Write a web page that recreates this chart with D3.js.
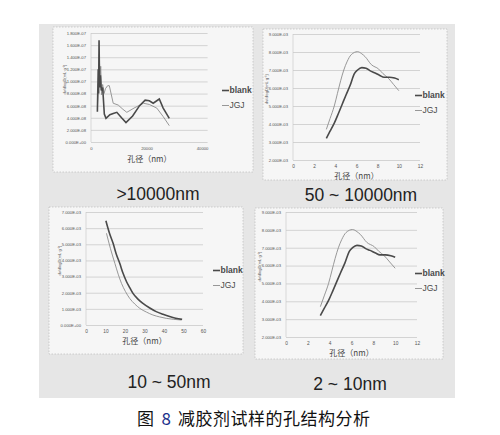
<!DOCTYPE html>
<html>
<head>
<meta charset="utf-8">
<script src="https://cdn.jsdelivr.net/npm/d3@7"></script>
<style>
  body { margin: 0; background: #fff; }
  svg { display: block; }
</style>
</head>
<body>
<div id="fig"></div>
<script>
// ---- data ----
// panel 1: >10000nm  [pore size nm, dV/dlogD]
const p1Blank = [[2300,5.0e-8],[2600,12e-8],[2750,8e-8],[2900,16.8e-8],[3100,9e-8],[3400,11e-8],[3700,8.5e-8],[4200,9e-8],[4800,4.6e-8],[5400,3.9e-8],[6800,4.5e-8],[8000,4.7e-8],[9300,4.9e-8],[11000,4.0e-8],[12600,3.2e-8],[15000,4.3e-8],[17500,6.0e-8],[19500,6.9e-8],[21000,6.8e-8],[22400,6.4e-8],[24600,7.1e-8],[26000,5.6e-8],[28200,3.9e-8]];
const p1JGJ = [[2300,5.5e-8],[2700,10e-8],[3000,14.5e-8],[3200,10e-8],[3500,12.5e-8],[3800,7.8e-8],[4200,9.5e-8],[4700,8e-8],[5200,8.8e-8],[6000,9.3e-8],[6600,9.3e-8],[8000,6.4e-8],[9800,6.1e-8],[11500,5.4e-8],[12900,4.9e-8],[15500,5.6e-8],[18900,6.4e-8],[21000,6.2e-8],[23700,5.6e-8],[26000,4.2e-8],[28200,2.7e-8]];

// panel 2 & 4: 2~10nm (same curves appear in both)
const p4Blank = [[3.15,3.2e-3],[3.5,3.6e-3],[3.9,4.05e-3],[4.3,4.6e-3],[4.65,5.1e-3],[5.0,5.6e-3],[5.4,6.15e-3],[5.8,6.8e-3],[6.1,7.0e-3],[6.5,7.13e-3],[6.9,7.1e-3],[7.3,6.95e-3],[7.7,6.85e-3],[8.2,6.7e-3],[8.6,6.6e-3],[9.1,6.6e-3],[9.6,6.55e-3],[10.0,6.46e-3]];
const p4JGJ = [[3.15,3.7e-3],[3.5,4.3e-3],[3.9,5.0e-3],[4.2,5.7e-3],[4.5,6.4e-3],[4.8,7.0e-3],[5.1,7.45e-3],[5.5,7.85e-3],[6.1,8.02e-3],[6.5,7.9e-3],[6.8,7.75e-3],[7.4,7.3e-3],[8.1,7.05e-3],[8.5,6.8e-3],[9.0,6.55e-3],[9.5,6.2e-3],[10.0,5.85e-3]];

// panel 3: 10~50nm
const p3Blank = [[10.2,6.46e-3],[12,5.7e-3],[13.9,5.06e-3],[15.5,4.4e-3],[17.3,3.82e-3],[19,3.2e-3],[20.8,2.68e-3],[22.5,2.3e-3],[24.1,1.96e-3],[26.5,1.62e-3],[29.2,1.34e-3],[32.5,1.07e-3],[36,0.83e-3],[39.5,0.66e-3],[42.9,0.52e-3],[46,0.42e-3],[49.3,0.35e-3]];
const p3JGJ = [[10.5,5.68e-3],[12.5,4.75e-3],[14.8,3.82e-3],[16.5,3.15e-3],[18.2,2.58e-3],[20.2,2.08e-3],[22.4,1.65e-3],[25,1.3e-3],[27.6,1.03e-3],[31,0.8e-3],[34.3,0.62e-3],[37.8,0.5e-3],[41.2,0.41e-3],[45,0.35e-3],[48.8,0.31e-3]];

const seriesNames = ['blank', 'JGJ'];
const panelTitles = ['>10000nm', '50 ~ 10000nm', '10 ~ 50nm', '2 ~ 10nm'];
const p1XTicks = [0, 20000, 40000];
const p1YTicks = d3.range(0, 1.81e-7, 2e-8);
const smallXTicks = [0, 2, 4, 6, 8, 10, 12];
const smallYTicks = d3.range(2e-3, 9.01e-3, 1e-3);
const p3XTicks = [0, 10, 20, 30, 40, 50, 60];
const p3YTicks = d3.range(0, 7.01e-3, 1e-3);
const xTitle = '孔径（nm）';
const yTitle = 'dv/dlogD(mL·g⁻¹)';
const captionHead = '图';
const captionNum = '8';
const captionBody = '减胶剂试样的孔结构分析';

// ---- layout ----
const W = 500, H = 435;
const svg = d3.select('#fig').append('svg')
    .attr('width', W)
    .attr('height', H);

// scanned page background
svg.append('rect')
    .attr('x', 39).attr('y', 24)
    .attr('width', 416).attr('height', 374)
    .attr('fill', '#e6e6e6');

const sci = v => {
    const [m, e] = v.toExponential(3).split('e');
    const n = +e;
    return `${m}E${n < 0 ? '-' : '+'}${String(Math.abs(n)).padStart(2, '0')}`;
};

const panels = [
    { box: [53, 27, 200, 145], xd: [0, 42000], xr: [91, 207.6], yd: [0, 1.8e-7], yr: [142, 33],
      xt: p1XTicks, yt: p1YTicks, blank: p1Blank, jgj: p1JGJ, curve: d3.curveLinear,
      leg: [222, 93], xTitleY: 162, title: [158, 200] },
    { box: [263, 29, 184, 151], xd: [0, 12], xr: [293, 420], yd: [2e-3, 9e-3], yr: [160, 34],
      xt: smallXTicks, yt: smallYTicks, blank: p4Blank, jgj: p4JGJ, curve: d3.curveMonotoneX,
      leg: [415, 98], xTitleY: 178.5, title: [361, 201] },
    { box: [49, 207, 194, 147], xd: [0, 60], xr: [86, 203], yd: [0, 7e-3], yr: [325, 212],
      xt: p3XTicks, yt: p3YTicks, blank: p3Blank, jgj: p3JGJ, curve: d3.curveMonotoneX,
      leg: [213, 273], xTitleY: 344, title: [169, 388] },
    { box: [255, 208, 188, 151], xd: [0, 12], xr: [286, 417], yd: [2e-3, 9e-3], yr: [337, 212],
      xt: smallXTicks, yt: smallYTicks, blank: p4Blank, jgj: p4JGJ, curve: d3.curveMonotoneX,
      leg: [415, 276], xTitleY: 355.5, title: [350, 390] }
];

panels.forEach((p, i) => {
    const g = svg.append('g');
    const [bx, by, bw, bh] = p.box;

    // panel paper
    g.append('rect')
        .attr('x', bx).attr('y', by)
        .attr('width', bw).attr('height', bh)
        .attr('fill', '#f6f6f6')
        .attr('stroke', '#b5b5b5')
        .attr('stroke-width', 0.6)
        .attr('stroke-dasharray', '1.5,1.5');

    const x = d3.scaleLinear().domain(p.xd).range(p.xr);
    const y = d3.scaleLinear().domain(p.yd).range(p.yr);

    // gridlines
    g.append('g')
        .attr('transform', `translate(${p.xr[0]},0)`)
        .call(d3.axisLeft(y).tickValues(p.yt).tickSize(-(p.xr[1] - p.xr[0])).tickFormat(''))
        .call(a => a.select('.domain').remove())
        .call(a => a.selectAll('line').attr('stroke', '#c4c4c4').attr('stroke-width', 0.7));

    // y axis labels
    g.append('g')
        .attr('transform', `translate(${p.xr[0] - 2},0)`)
        .call(d3.axisLeft(y).tickValues(p.yt).tickSize(0).tickFormat(sci))
        .call(a => a.select('.domain').remove())
        .call(a => a.selectAll('text')
            .attr('font-family', 'Liberation Sans, Arial, sans-serif')
            .attr('font-size', 4.2)
            .attr('fill', '#555'));

    // vertical axis line + x axis labels
    g.append('line')
        .attr('x1', p.xr[0]).attr('x2', p.xr[0])
        .attr('y1', p.yr[1]).attr('y2', p.yr[0])
        .attr('stroke', '#c8c8c8').attr('stroke-width', 0.6);

    g.append('g')
        .attr('transform', `translate(0,${p.yr[0] + 2})`)
        .call(d3.axisBottom(x).tickValues(p.xt).tickSize(0).tickFormat(d3.format('d')))
        .call(a => a.select('.domain').remove())
        .call(a => a.selectAll('text')
            .attr('font-family', 'Liberation Sans, Arial, sans-serif')
            .attr('font-size', i === 0 ? 4.2 : 4.8)
            .attr('fill', '#555'));

    // axis titles
    g.append('text')
        .attr('x', (p.xr[0] + p.xr[1]) / 2)
        .attr('y', p.xTitleY)
        .attr('text-anchor', 'middle')
        .attr('font-family', 'Noto Sans CJK SC, sans-serif')
        .attr('font-size', 8)
        .attr('fill', '#444')
        .text(xTitle);

    const yMid = (p.yr[0] + p.yr[1]) / 2;
    const yx = p.xr[0] - 25;
    g.append('text')
        .attr('transform', `translate(${yx},${yMid - 8}) rotate(-90)`)
        .attr('text-anchor', 'middle')
        .attr('font-family', 'Liberation Sans, Arial, sans-serif')
        .attr('font-size', 4)
        .attr('fill', '#555')
        .text(yTitle);

    // series
    const line = d3.line()
        .x(d => x(d[0]))
        .y(d => y(d[1]))
        .curve(p.curve);

    g.append('path')
        .datum(p.jgj)
        .attr('d', line)
        .attr('fill', 'none')
        .attr('stroke', '#8c8c8c')
        .attr('stroke-width', 0.9);

    g.append('path')
        .datum(p.blank)
        .attr('d', line)
        .attr('fill', 'none')
        .attr('stroke', '#4a4a4a')
        .attr('stroke-width', 1.6);

    // legend
    const [lx, ly] = p.leg;
    seriesNames.forEach((name, k) => {
        const yy = ly + k * 15;
        g.append('line')
            .attr('x1', lx).attr('x2', lx + 7)
            .attr('y1', yy - 2.5).attr('y2', yy - 2.5)
            .attr('stroke', k === 0 ? '#4a4a4a' : '#8c8c8c')
            .attr('stroke-width', k === 0 ? 1.6 : 0.9);
        g.append('text')
            .attr('x', lx + 7.5).attr('y', yy)
            .attr('font-family', 'Liberation Sans, Arial, sans-serif')
            .attr('font-size', 8.5)
            .attr('font-weight', k === 0 ? 'bold' : 'normal')
            .attr('fill', '#4a4a4a')
            .text(name);
    });

    // panel title
    g.append('text')
        .attr('x', p.title[0]).attr('y', p.title[1])
        .attr('text-anchor', 'middle')
        .attr('font-family', 'Liberation Sans, Arial, sans-serif')
        .attr('font-size', 17.5)
        .attr('fill', '#222')
        .text(panelTitles[i]);
});

// figure caption
const capStyle = t => t
    .attr('y', 425)
    .attr('font-family', 'Noto Sans CJK SC, sans-serif')
    .attr('font-size', 17);
capStyle(svg.append('text')).attr('x', 137).attr('fill', '#111').text(captionHead);
capStyle(svg.append('text')).attr('x', 161.5).attr('fill', '#1b2f8a').text(captionNum);
capStyle(svg.append('text')).attr('x', 178).attr('fill', '#111')
    .attr('letter-spacing', 0.5).text(captionBody);
</script>
</body>
</html>
